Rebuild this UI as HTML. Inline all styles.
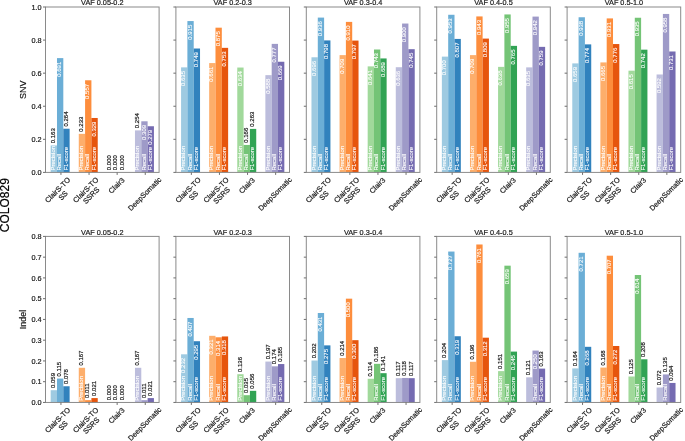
<!DOCTYPE html>
<html><head><meta charset="utf-8"><style>
html,body{margin:0;padding:0;background:#fff;}
body{width:685px;height:441px;overflow:hidden;}
svg{display:block;will-change:transform;}
text{font-family:"Liberation Sans",sans-serif;}
.t{font-size:7.3px;fill:#1a1a1a;stroke:#1a1a1a;stroke-width:0.2px;}
.v{font-size:6px;}
.yl{font-size:9px;fill:#1a1a1a;stroke:#1a1a1a;stroke-width:0.2px;}
.big{font-size:12px;fill:#000;stroke:#000;stroke-width:0.2px;}
</style></head><body>
<svg width="685" height="441" viewBox="0 0 685 441">
<rect width="685" height="441" fill="#fff"/>
<rect x="50.67" y="145.44" width="6.32" height="26.96" fill="#9ecae1"/>
<rect x="56.99" y="58.11" width="6.32" height="114.29" fill="#6baed6"/>
<rect x="63.31" y="128.73" width="6.32" height="43.67" fill="#3182bd"/>
<rect x="78.77" y="133.86" width="6.32" height="38.54" fill="#fdae6b"/>
<rect x="85.09" y="80.27" width="6.32" height="92.13" fill="#fd8d3c"/>
<rect x="91.41" y="117.98" width="6.32" height="54.42" fill="#e6550d"/>
<rect x="134.97" y="130.39" width="6.32" height="42.01" fill="#bcbddc"/>
<rect x="141.29" y="121.29" width="6.32" height="51.11" fill="#9e9ac8"/>
<rect x="147.61" y="126.25" width="6.32" height="46.15" fill="#756bb1"/>
<text transform="translate(54.93,143.24) rotate(-90)" text-anchor="start" class="v" fill="#1a1a1a" stroke="#1a1a1a" stroke-width="0.2">0.163</text>
<text transform="translate(54.93,170.6) rotate(-90)" text-anchor="start" class="v" fill="#fff" stroke="#fff" stroke-width="0.1">Precision</text>
<text transform="translate(61.25,61.71) rotate(-90)" text-anchor="end" class="v" fill="#fff" stroke="#fff" stroke-width="0.1">0.691</text>
<text transform="translate(61.25,170.6) rotate(-90)" text-anchor="start" class="v" fill="#fff" stroke="#fff" stroke-width="0.1">Recall</text>
<text transform="translate(67.57,126.53) rotate(-90)" text-anchor="start" class="v" fill="#1a1a1a" stroke="#1a1a1a" stroke-width="0.2">0.264</text>
<text transform="translate(67.57,170.6) rotate(-90)" text-anchor="start" class="v" fill="#fff" stroke="#fff" stroke-width="0.1">F1-score</text>
<text transform="translate(83.03,131.66) rotate(-90)" text-anchor="start" class="v" fill="#1a1a1a" stroke="#1a1a1a" stroke-width="0.2">0.233</text>
<text transform="translate(83.03,170.6) rotate(-90)" text-anchor="start" class="v" fill="#fff" stroke="#fff" stroke-width="0.1">Precision</text>
<text transform="translate(89.35,83.87) rotate(-90)" text-anchor="end" class="v" fill="#fff" stroke="#fff" stroke-width="0.1">0.557</text>
<text transform="translate(89.35,170.6) rotate(-90)" text-anchor="start" class="v" fill="#fff" stroke="#fff" stroke-width="0.1">Recall</text>
<text transform="translate(95.67,121.58) rotate(-90)" text-anchor="end" class="v" fill="#fff" stroke="#fff" stroke-width="0.1">0.329</text>
<text transform="translate(95.67,170.6) rotate(-90)" text-anchor="start" class="v" fill="#fff" stroke="#fff" stroke-width="0.1">F1-score</text>
<text transform="translate(111.13,170.2) rotate(-90)" text-anchor="start" class="v" fill="#1a1a1a" stroke="#1a1a1a" stroke-width="0.2">0.000</text>
<text transform="translate(117.45,170.2) rotate(-90)" text-anchor="start" class="v" fill="#1a1a1a" stroke="#1a1a1a" stroke-width="0.2">0.000</text>
<text transform="translate(123.77,170.2) rotate(-90)" text-anchor="start" class="v" fill="#1a1a1a" stroke="#1a1a1a" stroke-width="0.2">0.000</text>
<text transform="translate(139.23,128.19) rotate(-90)" text-anchor="start" class="v" fill="#1a1a1a" stroke="#1a1a1a" stroke-width="0.2">0.254</text>
<text transform="translate(139.23,170.6) rotate(-90)" text-anchor="start" class="v" fill="#fff" stroke="#fff" stroke-width="0.1">Precision</text>
<text transform="translate(145.55,124.89) rotate(-90)" text-anchor="end" class="v" fill="#fff" stroke="#fff" stroke-width="0.1">0.309</text>
<text transform="translate(145.55,170.6) rotate(-90)" text-anchor="start" class="v" fill="#fff" stroke="#fff" stroke-width="0.1">Recall</text>
<text transform="translate(151.87,129.85) rotate(-90)" text-anchor="end" class="v" fill="#fff" stroke="#fff" stroke-width="0.1">0.279</text>
<text transform="translate(151.87,170.6) rotate(-90)" text-anchor="start" class="v" fill="#fff" stroke="#fff" stroke-width="0.1">F1-score</text>
<rect x="45.5" y="7" width="113.6" height="165.4" fill="none" stroke="#8a8a8a" stroke-width="1"/>
<line x1="43" y1="172.4" x2="45.5" y2="172.4" stroke="#6e6e6e" stroke-width="1"/>
<text x="41.6" y="175" text-anchor="end" class="t">0.0</text>
<line x1="43" y1="139.32" x2="45.5" y2="139.32" stroke="#6e6e6e" stroke-width="1"/>
<text x="41.6" y="141.92" text-anchor="end" class="t">0.2</text>
<line x1="43" y1="106.24" x2="45.5" y2="106.24" stroke="#6e6e6e" stroke-width="1"/>
<text x="41.6" y="108.84" text-anchor="end" class="t">0.4</text>
<line x1="43" y1="73.16" x2="45.5" y2="73.16" stroke="#6e6e6e" stroke-width="1"/>
<text x="41.6" y="75.76" text-anchor="end" class="t">0.6</text>
<line x1="43" y1="40.08" x2="45.5" y2="40.08" stroke="#6e6e6e" stroke-width="1"/>
<text x="41.6" y="42.68" text-anchor="end" class="t">0.8</text>
<line x1="43" y1="7" x2="45.5" y2="7" stroke="#6e6e6e" stroke-width="1"/>
<text x="41.6" y="9.6" text-anchor="end" class="t">1.0</text>
<line x1="60.95" y1="172.4" x2="60.95" y2="174.9" stroke="#6e6e6e" stroke-width="1"/>
<g transform="translate(60.35,192.7) rotate(-45)">
<text x="0" y="-1.35" text-anchor="middle" class="t">ClairS-TO</text>
<text x="0" y="6.35" text-anchor="middle" class="t">SS</text>
</g>
<line x1="89.05" y1="172.4" x2="89.05" y2="174.9" stroke="#6e6e6e" stroke-width="1"/>
<g transform="translate(88.45,192.7) rotate(-45)">
<text x="0" y="-1.35" text-anchor="middle" class="t">ClairS-TO</text>
<text x="0" y="6.35" text-anchor="middle" class="t">SSRS</text>
</g>
<line x1="117.15" y1="172.4" x2="117.15" y2="174.9" stroke="#6e6e6e" stroke-width="1"/>
<g transform="translate(116.55,185.49) rotate(-45)">
<text x="0" y="2.5" text-anchor="middle" class="t">Clair3</text>
</g>
<line x1="145.25" y1="172.4" x2="145.25" y2="174.9" stroke="#6e6e6e" stroke-width="1"/>
<g transform="translate(144.65,193.88) rotate(-45)">
<text x="0" y="2.5" text-anchor="middle" class="t">DeepSomatic</text>
</g>
<text x="102.3" y="5.4" text-anchor="middle" class="t">VAF 0.05-0.2</text>
<rect x="181.07" y="67.37" width="6.32" height="105.03" fill="#9ecae1"/>
<rect x="187.39" y="21.06" width="6.32" height="151.34" fill="#6baed6"/>
<rect x="193.71" y="48.52" width="6.32" height="123.88" fill="#3182bd"/>
<rect x="209.17" y="63.07" width="6.32" height="109.33" fill="#fdae6b"/>
<rect x="215.49" y="27.68" width="6.32" height="144.72" fill="#fd8d3c"/>
<rect x="221.81" y="47.85" width="6.32" height="124.55" fill="#e6550d"/>
<rect x="237.27" y="67.54" width="6.32" height="104.86" fill="#a1d99b"/>
<rect x="243.59" y="144.94" width="6.32" height="27.46" fill="#74c476"/>
<rect x="249.91" y="128.9" width="6.32" height="43.5" fill="#31a354"/>
<rect x="265.37" y="75.14" width="6.32" height="97.26" fill="#bcbddc"/>
<rect x="271.69" y="43.88" width="6.32" height="128.52" fill="#9e9ac8"/>
<rect x="278.01" y="61.75" width="6.32" height="110.65" fill="#756bb1"/>
<text transform="translate(185.33,70.97) rotate(-90)" text-anchor="end" class="v" fill="#fff" stroke="#fff" stroke-width="0.1">0.635</text>
<text transform="translate(185.33,170.6) rotate(-90)" text-anchor="start" class="v" fill="#fff" stroke="#fff" stroke-width="0.1">Precision</text>
<text transform="translate(191.65,24.66) rotate(-90)" text-anchor="end" class="v" fill="#fff" stroke="#fff" stroke-width="0.1">0.915</text>
<text transform="translate(191.65,170.6) rotate(-90)" text-anchor="start" class="v" fill="#fff" stroke="#fff" stroke-width="0.1">Recall</text>
<text transform="translate(197.97,52.12) rotate(-90)" text-anchor="end" class="v" fill="#fff" stroke="#fff" stroke-width="0.1">0.749</text>
<text transform="translate(197.97,170.6) rotate(-90)" text-anchor="start" class="v" fill="#fff" stroke="#fff" stroke-width="0.1">F1-score</text>
<text transform="translate(213.43,66.67) rotate(-90)" text-anchor="end" class="v" fill="#fff" stroke="#fff" stroke-width="0.1">0.661</text>
<text transform="translate(213.43,170.6) rotate(-90)" text-anchor="start" class="v" fill="#fff" stroke="#fff" stroke-width="0.1">Precision</text>
<text transform="translate(219.75,31.28) rotate(-90)" text-anchor="end" class="v" fill="#fff" stroke="#fff" stroke-width="0.1">0.875</text>
<text transform="translate(219.75,170.6) rotate(-90)" text-anchor="start" class="v" fill="#fff" stroke="#fff" stroke-width="0.1">Recall</text>
<text transform="translate(226.07,51.45) rotate(-90)" text-anchor="end" class="v" fill="#fff" stroke="#fff" stroke-width="0.1">0.753</text>
<text transform="translate(226.07,170.6) rotate(-90)" text-anchor="start" class="v" fill="#fff" stroke="#fff" stroke-width="0.1">F1-score</text>
<text transform="translate(241.53,71.14) rotate(-90)" text-anchor="end" class="v" fill="#fff" stroke="#fff" stroke-width="0.1">0.634</text>
<text transform="translate(241.53,170.6) rotate(-90)" text-anchor="start" class="v" fill="#fff" stroke="#fff" stroke-width="0.1">Precision</text>
<text transform="translate(247.85,142.74) rotate(-90)" text-anchor="start" class="v" fill="#1a1a1a" stroke="#1a1a1a" stroke-width="0.2">0.166</text>
<text transform="translate(247.85,170.6) rotate(-90)" text-anchor="start" class="v" fill="#fff" stroke="#fff" stroke-width="0.1">Recall</text>
<text transform="translate(254.17,126.7) rotate(-90)" text-anchor="start" class="v" fill="#1a1a1a" stroke="#1a1a1a" stroke-width="0.2">0.263</text>
<text transform="translate(254.17,170.6) rotate(-90)" text-anchor="start" class="v" fill="#fff" stroke="#fff" stroke-width="0.1">F1-score</text>
<text transform="translate(269.63,78.74) rotate(-90)" text-anchor="end" class="v" fill="#fff" stroke="#fff" stroke-width="0.1">0.588</text>
<text transform="translate(269.63,170.6) rotate(-90)" text-anchor="start" class="v" fill="#fff" stroke="#fff" stroke-width="0.1">Precision</text>
<text transform="translate(275.95,47.48) rotate(-90)" text-anchor="end" class="v" fill="#fff" stroke="#fff" stroke-width="0.1">0.777</text>
<text transform="translate(275.95,170.6) rotate(-90)" text-anchor="start" class="v" fill="#fff" stroke="#fff" stroke-width="0.1">Recall</text>
<text transform="translate(282.27,65.35) rotate(-90)" text-anchor="end" class="v" fill="#fff" stroke="#fff" stroke-width="0.1">0.669</text>
<text transform="translate(282.27,170.6) rotate(-90)" text-anchor="start" class="v" fill="#fff" stroke="#fff" stroke-width="0.1">F1-score</text>
<rect x="175.9" y="7" width="113.6" height="165.4" fill="none" stroke="#8a8a8a" stroke-width="1"/>
<line x1="173.4" y1="172.4" x2="175.9" y2="172.4" stroke="#6e6e6e" stroke-width="1"/>
<line x1="173.4" y1="139.32" x2="175.9" y2="139.32" stroke="#6e6e6e" stroke-width="1"/>
<line x1="173.4" y1="106.24" x2="175.9" y2="106.24" stroke="#6e6e6e" stroke-width="1"/>
<line x1="173.4" y1="73.16" x2="175.9" y2="73.16" stroke="#6e6e6e" stroke-width="1"/>
<line x1="173.4" y1="40.08" x2="175.9" y2="40.08" stroke="#6e6e6e" stroke-width="1"/>
<line x1="173.4" y1="7" x2="175.9" y2="7" stroke="#6e6e6e" stroke-width="1"/>
<line x1="191.35" y1="172.4" x2="191.35" y2="174.9" stroke="#6e6e6e" stroke-width="1"/>
<g transform="translate(190.75,192.7) rotate(-45)">
<text x="0" y="-1.35" text-anchor="middle" class="t">ClairS-TO</text>
<text x="0" y="6.35" text-anchor="middle" class="t">SS</text>
</g>
<line x1="219.45" y1="172.4" x2="219.45" y2="174.9" stroke="#6e6e6e" stroke-width="1"/>
<g transform="translate(218.85,192.7) rotate(-45)">
<text x="0" y="-1.35" text-anchor="middle" class="t">ClairS-TO</text>
<text x="0" y="6.35" text-anchor="middle" class="t">SSRS</text>
</g>
<line x1="247.55" y1="172.4" x2="247.55" y2="174.9" stroke="#6e6e6e" stroke-width="1"/>
<g transform="translate(246.95,185.49) rotate(-45)">
<text x="0" y="2.5" text-anchor="middle" class="t">Clair3</text>
</g>
<line x1="275.65" y1="172.4" x2="275.65" y2="174.9" stroke="#6e6e6e" stroke-width="1"/>
<g transform="translate(275.05,193.88) rotate(-45)">
<text x="0" y="2.5" text-anchor="middle" class="t">DeepSomatic</text>
</g>
<text x="232.7" y="5.4" text-anchor="middle" class="t">VAF 0.2-0.3</text>
<rect x="311.47" y="57.28" width="6.32" height="115.12" fill="#9ecae1"/>
<rect x="317.79" y="17.59" width="6.32" height="154.81" fill="#6baed6"/>
<rect x="324.11" y="40.41" width="6.32" height="131.99" fill="#3182bd"/>
<rect x="339.57" y="55.13" width="6.32" height="117.27" fill="#fdae6b"/>
<rect x="345.89" y="21.89" width="6.32" height="150.51" fill="#fd8d3c"/>
<rect x="352.21" y="40.58" width="6.32" height="131.82" fill="#e6550d"/>
<rect x="367.67" y="66.38" width="6.32" height="106.02" fill="#a1d99b"/>
<rect x="373.99" y="49.51" width="6.32" height="122.89" fill="#74c476"/>
<rect x="380.31" y="58.44" width="6.32" height="113.96" fill="#31a354"/>
<rect x="395.77" y="67.21" width="6.32" height="105.19" fill="#bcbddc"/>
<rect x="402.09" y="23.54" width="6.32" height="148.86" fill="#9e9ac8"/>
<rect x="408.41" y="49.18" width="6.32" height="123.22" fill="#756bb1"/>
<text transform="translate(315.73,60.88) rotate(-90)" text-anchor="end" class="v" fill="#fff" stroke="#fff" stroke-width="0.1">0.696</text>
<text transform="translate(315.73,170.6) rotate(-90)" text-anchor="start" class="v" fill="#fff" stroke="#fff" stroke-width="0.1">Precision</text>
<text transform="translate(322.05,21.19) rotate(-90)" text-anchor="end" class="v" fill="#fff" stroke="#fff" stroke-width="0.1">0.936</text>
<text transform="translate(322.05,170.6) rotate(-90)" text-anchor="start" class="v" fill="#fff" stroke="#fff" stroke-width="0.1">Recall</text>
<text transform="translate(328.37,44.01) rotate(-90)" text-anchor="end" class="v" fill="#fff" stroke="#fff" stroke-width="0.1">0.798</text>
<text transform="translate(328.37,170.6) rotate(-90)" text-anchor="start" class="v" fill="#fff" stroke="#fff" stroke-width="0.1">F1-score</text>
<text transform="translate(343.83,58.73) rotate(-90)" text-anchor="end" class="v" fill="#fff" stroke="#fff" stroke-width="0.1">0.709</text>
<text transform="translate(343.83,170.6) rotate(-90)" text-anchor="start" class="v" fill="#fff" stroke="#fff" stroke-width="0.1">Precision</text>
<text transform="translate(350.15,25.49) rotate(-90)" text-anchor="end" class="v" fill="#fff" stroke="#fff" stroke-width="0.1">0.910</text>
<text transform="translate(350.15,170.6) rotate(-90)" text-anchor="start" class="v" fill="#fff" stroke="#fff" stroke-width="0.1">Recall</text>
<text transform="translate(356.47,44.18) rotate(-90)" text-anchor="end" class="v" fill="#fff" stroke="#fff" stroke-width="0.1">0.797</text>
<text transform="translate(356.47,170.6) rotate(-90)" text-anchor="start" class="v" fill="#fff" stroke="#fff" stroke-width="0.1">F1-score</text>
<text transform="translate(371.93,69.98) rotate(-90)" text-anchor="end" class="v" fill="#fff" stroke="#fff" stroke-width="0.1">0.641</text>
<text transform="translate(371.93,170.6) rotate(-90)" text-anchor="start" class="v" fill="#fff" stroke="#fff" stroke-width="0.1">Precision</text>
<text transform="translate(378.25,53.11) rotate(-90)" text-anchor="end" class="v" fill="#fff" stroke="#fff" stroke-width="0.1">0.743</text>
<text transform="translate(378.25,170.6) rotate(-90)" text-anchor="start" class="v" fill="#fff" stroke="#fff" stroke-width="0.1">Recall</text>
<text transform="translate(384.57,62.04) rotate(-90)" text-anchor="end" class="v" fill="#fff" stroke="#fff" stroke-width="0.1">0.689</text>
<text transform="translate(384.57,170.6) rotate(-90)" text-anchor="start" class="v" fill="#fff" stroke="#fff" stroke-width="0.1">F1-score</text>
<text transform="translate(400.03,70.81) rotate(-90)" text-anchor="end" class="v" fill="#fff" stroke="#fff" stroke-width="0.1">0.636</text>
<text transform="translate(400.03,170.6) rotate(-90)" text-anchor="start" class="v" fill="#fff" stroke="#fff" stroke-width="0.1">Precision</text>
<text transform="translate(406.35,27.14) rotate(-90)" text-anchor="end" class="v" fill="#fff" stroke="#fff" stroke-width="0.1">0.900</text>
<text transform="translate(406.35,170.6) rotate(-90)" text-anchor="start" class="v" fill="#fff" stroke="#fff" stroke-width="0.1">Recall</text>
<text transform="translate(412.67,52.78) rotate(-90)" text-anchor="end" class="v" fill="#fff" stroke="#fff" stroke-width="0.1">0.745</text>
<text transform="translate(412.67,170.6) rotate(-90)" text-anchor="start" class="v" fill="#fff" stroke="#fff" stroke-width="0.1">F1-score</text>
<rect x="306.3" y="7" width="113.6" height="165.4" fill="none" stroke="#8a8a8a" stroke-width="1"/>
<line x1="303.8" y1="172.4" x2="306.3" y2="172.4" stroke="#6e6e6e" stroke-width="1"/>
<line x1="303.8" y1="139.32" x2="306.3" y2="139.32" stroke="#6e6e6e" stroke-width="1"/>
<line x1="303.8" y1="106.24" x2="306.3" y2="106.24" stroke="#6e6e6e" stroke-width="1"/>
<line x1="303.8" y1="73.16" x2="306.3" y2="73.16" stroke="#6e6e6e" stroke-width="1"/>
<line x1="303.8" y1="40.08" x2="306.3" y2="40.08" stroke="#6e6e6e" stroke-width="1"/>
<line x1="303.8" y1="7" x2="306.3" y2="7" stroke="#6e6e6e" stroke-width="1"/>
<line x1="321.75" y1="172.4" x2="321.75" y2="174.9" stroke="#6e6e6e" stroke-width="1"/>
<g transform="translate(321.15,192.7) rotate(-45)">
<text x="0" y="-1.35" text-anchor="middle" class="t">ClairS-TO</text>
<text x="0" y="6.35" text-anchor="middle" class="t">SS</text>
</g>
<line x1="349.85" y1="172.4" x2="349.85" y2="174.9" stroke="#6e6e6e" stroke-width="1"/>
<g transform="translate(349.25,192.7) rotate(-45)">
<text x="0" y="-1.35" text-anchor="middle" class="t">ClairS-TO</text>
<text x="0" y="6.35" text-anchor="middle" class="t">SSRS</text>
</g>
<line x1="377.95" y1="172.4" x2="377.95" y2="174.9" stroke="#6e6e6e" stroke-width="1"/>
<g transform="translate(377.35,185.49) rotate(-45)">
<text x="0" y="2.5" text-anchor="middle" class="t">Clair3</text>
</g>
<line x1="406.05" y1="172.4" x2="406.05" y2="174.9" stroke="#6e6e6e" stroke-width="1"/>
<g transform="translate(405.45,193.88) rotate(-45)">
<text x="0" y="2.5" text-anchor="middle" class="t">DeepSomatic</text>
</g>
<text x="363.1" y="5.4" text-anchor="middle" class="t">VAF 0.3-0.4</text>
<rect x="441.87" y="56.62" width="6.32" height="115.78" fill="#9ecae1"/>
<rect x="448.19" y="14.77" width="6.32" height="157.63" fill="#6baed6"/>
<rect x="454.51" y="38.92" width="6.32" height="133.48" fill="#3182bd"/>
<rect x="469.97" y="55.13" width="6.32" height="117.27" fill="#fdae6b"/>
<rect x="476.29" y="16.43" width="6.32" height="155.97" fill="#fd8d3c"/>
<rect x="482.61" y="38.59" width="6.32" height="133.81" fill="#e6550d"/>
<rect x="498.07" y="66.87" width="6.32" height="105.53" fill="#a1d99b"/>
<rect x="504.39" y="14.44" width="6.32" height="157.96" fill="#74c476"/>
<rect x="510.71" y="45.87" width="6.32" height="126.53" fill="#31a354"/>
<rect x="526.17" y="67.37" width="6.32" height="105.03" fill="#bcbddc"/>
<rect x="532.49" y="16.59" width="6.32" height="155.81" fill="#9e9ac8"/>
<rect x="538.81" y="46.86" width="6.32" height="125.54" fill="#756bb1"/>
<text transform="translate(446.13,60.22) rotate(-90)" text-anchor="end" class="v" fill="#fff" stroke="#fff" stroke-width="0.1">0.700</text>
<text transform="translate(446.13,170.6) rotate(-90)" text-anchor="start" class="v" fill="#fff" stroke="#fff" stroke-width="0.1">Precision</text>
<text transform="translate(452.45,18.37) rotate(-90)" text-anchor="end" class="v" fill="#fff" stroke="#fff" stroke-width="0.1">0.953</text>
<text transform="translate(452.45,170.6) rotate(-90)" text-anchor="start" class="v" fill="#fff" stroke="#fff" stroke-width="0.1">Recall</text>
<text transform="translate(458.77,42.52) rotate(-90)" text-anchor="end" class="v" fill="#fff" stroke="#fff" stroke-width="0.1">0.807</text>
<text transform="translate(458.77,170.6) rotate(-90)" text-anchor="start" class="v" fill="#fff" stroke="#fff" stroke-width="0.1">F1-score</text>
<text transform="translate(474.23,58.73) rotate(-90)" text-anchor="end" class="v" fill="#fff" stroke="#fff" stroke-width="0.1">0.709</text>
<text transform="translate(474.23,170.6) rotate(-90)" text-anchor="start" class="v" fill="#fff" stroke="#fff" stroke-width="0.1">Precision</text>
<text transform="translate(480.55,20.03) rotate(-90)" text-anchor="end" class="v" fill="#fff" stroke="#fff" stroke-width="0.1">0.943</text>
<text transform="translate(480.55,170.6) rotate(-90)" text-anchor="start" class="v" fill="#fff" stroke="#fff" stroke-width="0.1">Recall</text>
<text transform="translate(486.87,42.19) rotate(-90)" text-anchor="end" class="v" fill="#fff" stroke="#fff" stroke-width="0.1">0.809</text>
<text transform="translate(486.87,170.6) rotate(-90)" text-anchor="start" class="v" fill="#fff" stroke="#fff" stroke-width="0.1">F1-score</text>
<text transform="translate(502.33,70.47) rotate(-90)" text-anchor="end" class="v" fill="#fff" stroke="#fff" stroke-width="0.1">0.638</text>
<text transform="translate(502.33,170.6) rotate(-90)" text-anchor="start" class="v" fill="#fff" stroke="#fff" stroke-width="0.1">Precision</text>
<text transform="translate(508.65,18.04) rotate(-90)" text-anchor="end" class="v" fill="#fff" stroke="#fff" stroke-width="0.1">0.955</text>
<text transform="translate(508.65,170.6) rotate(-90)" text-anchor="start" class="v" fill="#fff" stroke="#fff" stroke-width="0.1">Recall</text>
<text transform="translate(514.97,49.47) rotate(-90)" text-anchor="end" class="v" fill="#fff" stroke="#fff" stroke-width="0.1">0.765</text>
<text transform="translate(514.97,170.6) rotate(-90)" text-anchor="start" class="v" fill="#fff" stroke="#fff" stroke-width="0.1">F1-score</text>
<text transform="translate(530.43,70.97) rotate(-90)" text-anchor="end" class="v" fill="#fff" stroke="#fff" stroke-width="0.1">0.635</text>
<text transform="translate(530.43,170.6) rotate(-90)" text-anchor="start" class="v" fill="#fff" stroke="#fff" stroke-width="0.1">Precision</text>
<text transform="translate(536.75,20.19) rotate(-90)" text-anchor="end" class="v" fill="#fff" stroke="#fff" stroke-width="0.1">0.942</text>
<text transform="translate(536.75,170.6) rotate(-90)" text-anchor="start" class="v" fill="#fff" stroke="#fff" stroke-width="0.1">Recall</text>
<text transform="translate(543.07,50.46) rotate(-90)" text-anchor="end" class="v" fill="#fff" stroke="#fff" stroke-width="0.1">0.759</text>
<text transform="translate(543.07,170.6) rotate(-90)" text-anchor="start" class="v" fill="#fff" stroke="#fff" stroke-width="0.1">F1-score</text>
<rect x="436.7" y="7" width="113.6" height="165.4" fill="none" stroke="#8a8a8a" stroke-width="1"/>
<line x1="434.2" y1="172.4" x2="436.7" y2="172.4" stroke="#6e6e6e" stroke-width="1"/>
<line x1="434.2" y1="139.32" x2="436.7" y2="139.32" stroke="#6e6e6e" stroke-width="1"/>
<line x1="434.2" y1="106.24" x2="436.7" y2="106.24" stroke="#6e6e6e" stroke-width="1"/>
<line x1="434.2" y1="73.16" x2="436.7" y2="73.16" stroke="#6e6e6e" stroke-width="1"/>
<line x1="434.2" y1="40.08" x2="436.7" y2="40.08" stroke="#6e6e6e" stroke-width="1"/>
<line x1="434.2" y1="7" x2="436.7" y2="7" stroke="#6e6e6e" stroke-width="1"/>
<line x1="452.15" y1="172.4" x2="452.15" y2="174.9" stroke="#6e6e6e" stroke-width="1"/>
<g transform="translate(451.55,192.7) rotate(-45)">
<text x="0" y="-1.35" text-anchor="middle" class="t">ClairS-TO</text>
<text x="0" y="6.35" text-anchor="middle" class="t">SS</text>
</g>
<line x1="480.25" y1="172.4" x2="480.25" y2="174.9" stroke="#6e6e6e" stroke-width="1"/>
<g transform="translate(479.65,192.7) rotate(-45)">
<text x="0" y="-1.35" text-anchor="middle" class="t">ClairS-TO</text>
<text x="0" y="6.35" text-anchor="middle" class="t">SSRS</text>
</g>
<line x1="508.35" y1="172.4" x2="508.35" y2="174.9" stroke="#6e6e6e" stroke-width="1"/>
<g transform="translate(507.75,185.49) rotate(-45)">
<text x="0" y="2.5" text-anchor="middle" class="t">Clair3</text>
</g>
<line x1="536.45" y1="172.4" x2="536.45" y2="174.9" stroke="#6e6e6e" stroke-width="1"/>
<g transform="translate(535.85,193.88) rotate(-45)">
<text x="0" y="2.5" text-anchor="middle" class="t">DeepSomatic</text>
</g>
<text x="493.5" y="5.4" text-anchor="middle" class="t">VAF 0.4-0.5</text>
<rect x="572.27" y="63.4" width="6.32" height="109" fill="#9ecae1"/>
<rect x="578.59" y="17.25" width="6.32" height="155.15" fill="#6baed6"/>
<rect x="584.91" y="44.38" width="6.32" height="128.02" fill="#3182bd"/>
<rect x="600.37" y="62.41" width="6.32" height="109.99" fill="#fdae6b"/>
<rect x="606.69" y="18.41" width="6.32" height="153.99" fill="#fd8d3c"/>
<rect x="613.01" y="44.05" width="6.32" height="128.35" fill="#e6550d"/>
<rect x="628.47" y="70.68" width="6.32" height="101.72" fill="#a1d99b"/>
<rect x="634.79" y="17.75" width="6.32" height="154.65" fill="#74c476"/>
<rect x="641.11" y="49.67" width="6.32" height="122.73" fill="#31a354"/>
<rect x="656.57" y="74.48" width="6.32" height="97.92" fill="#bcbddc"/>
<rect x="662.89" y="13.95" width="6.32" height="158.45" fill="#9e9ac8"/>
<rect x="669.21" y="51.49" width="6.32" height="120.91" fill="#756bb1"/>
<text transform="translate(576.53,67) rotate(-90)" text-anchor="end" class="v" fill="#fff" stroke="#fff" stroke-width="0.1">0.659</text>
<text transform="translate(576.53,170.6) rotate(-90)" text-anchor="start" class="v" fill="#fff" stroke="#fff" stroke-width="0.1">Precision</text>
<text transform="translate(582.85,20.85) rotate(-90)" text-anchor="end" class="v" fill="#fff" stroke="#fff" stroke-width="0.1">0.938</text>
<text transform="translate(582.85,170.6) rotate(-90)" text-anchor="start" class="v" fill="#fff" stroke="#fff" stroke-width="0.1">Recall</text>
<text transform="translate(589.17,47.98) rotate(-90)" text-anchor="end" class="v" fill="#fff" stroke="#fff" stroke-width="0.1">0.774</text>
<text transform="translate(589.17,170.6) rotate(-90)" text-anchor="start" class="v" fill="#fff" stroke="#fff" stroke-width="0.1">F1-score</text>
<text transform="translate(604.63,66.01) rotate(-90)" text-anchor="end" class="v" fill="#fff" stroke="#fff" stroke-width="0.1">0.665</text>
<text transform="translate(604.63,170.6) rotate(-90)" text-anchor="start" class="v" fill="#fff" stroke="#fff" stroke-width="0.1">Precision</text>
<text transform="translate(610.95,22.01) rotate(-90)" text-anchor="end" class="v" fill="#fff" stroke="#fff" stroke-width="0.1">0.931</text>
<text transform="translate(610.95,170.6) rotate(-90)" text-anchor="start" class="v" fill="#fff" stroke="#fff" stroke-width="0.1">Recall</text>
<text transform="translate(617.27,47.65) rotate(-90)" text-anchor="end" class="v" fill="#fff" stroke="#fff" stroke-width="0.1">0.776</text>
<text transform="translate(617.27,170.6) rotate(-90)" text-anchor="start" class="v" fill="#fff" stroke="#fff" stroke-width="0.1">F1-score</text>
<text transform="translate(632.73,74.28) rotate(-90)" text-anchor="end" class="v" fill="#fff" stroke="#fff" stroke-width="0.1">0.615</text>
<text transform="translate(632.73,170.6) rotate(-90)" text-anchor="start" class="v" fill="#fff" stroke="#fff" stroke-width="0.1">Precision</text>
<text transform="translate(639.05,21.35) rotate(-90)" text-anchor="end" class="v" fill="#fff" stroke="#fff" stroke-width="0.1">0.935</text>
<text transform="translate(639.05,170.6) rotate(-90)" text-anchor="start" class="v" fill="#fff" stroke="#fff" stroke-width="0.1">Recall</text>
<text transform="translate(645.37,53.27) rotate(-90)" text-anchor="end" class="v" fill="#fff" stroke="#fff" stroke-width="0.1">0.742</text>
<text transform="translate(645.37,170.6) rotate(-90)" text-anchor="start" class="v" fill="#fff" stroke="#fff" stroke-width="0.1">F1-score</text>
<text transform="translate(660.83,78.08) rotate(-90)" text-anchor="end" class="v" fill="#fff" stroke="#fff" stroke-width="0.1">0.592</text>
<text transform="translate(660.83,170.6) rotate(-90)" text-anchor="start" class="v" fill="#fff" stroke="#fff" stroke-width="0.1">Precision</text>
<text transform="translate(667.15,17.55) rotate(-90)" text-anchor="end" class="v" fill="#fff" stroke="#fff" stroke-width="0.1">0.958</text>
<text transform="translate(667.15,170.6) rotate(-90)" text-anchor="start" class="v" fill="#fff" stroke="#fff" stroke-width="0.1">Recall</text>
<text transform="translate(673.47,55.09) rotate(-90)" text-anchor="end" class="v" fill="#fff" stroke="#fff" stroke-width="0.1">0.731</text>
<text transform="translate(673.47,170.6) rotate(-90)" text-anchor="start" class="v" fill="#fff" stroke="#fff" stroke-width="0.1">F1-score</text>
<rect x="567.1" y="7" width="113.6" height="165.4" fill="none" stroke="#8a8a8a" stroke-width="1"/>
<line x1="564.6" y1="172.4" x2="567.1" y2="172.4" stroke="#6e6e6e" stroke-width="1"/>
<line x1="564.6" y1="139.32" x2="567.1" y2="139.32" stroke="#6e6e6e" stroke-width="1"/>
<line x1="564.6" y1="106.24" x2="567.1" y2="106.24" stroke="#6e6e6e" stroke-width="1"/>
<line x1="564.6" y1="73.16" x2="567.1" y2="73.16" stroke="#6e6e6e" stroke-width="1"/>
<line x1="564.6" y1="40.08" x2="567.1" y2="40.08" stroke="#6e6e6e" stroke-width="1"/>
<line x1="564.6" y1="7" x2="567.1" y2="7" stroke="#6e6e6e" stroke-width="1"/>
<line x1="582.55" y1="172.4" x2="582.55" y2="174.9" stroke="#6e6e6e" stroke-width="1"/>
<g transform="translate(581.95,192.7) rotate(-45)">
<text x="0" y="-1.35" text-anchor="middle" class="t">ClairS-TO</text>
<text x="0" y="6.35" text-anchor="middle" class="t">SS</text>
</g>
<line x1="610.65" y1="172.4" x2="610.65" y2="174.9" stroke="#6e6e6e" stroke-width="1"/>
<g transform="translate(610.05,192.7) rotate(-45)">
<text x="0" y="-1.35" text-anchor="middle" class="t">ClairS-TO</text>
<text x="0" y="6.35" text-anchor="middle" class="t">SSRS</text>
</g>
<line x1="638.75" y1="172.4" x2="638.75" y2="174.9" stroke="#6e6e6e" stroke-width="1"/>
<g transform="translate(638.15,185.49) rotate(-45)">
<text x="0" y="2.5" text-anchor="middle" class="t">Clair3</text>
</g>
<line x1="666.85" y1="172.4" x2="666.85" y2="174.9" stroke="#6e6e6e" stroke-width="1"/>
<g transform="translate(666.25,193.88) rotate(-45)">
<text x="0" y="2.5" text-anchor="middle" class="t">DeepSomatic</text>
</g>
<text x="623.9" y="5.4" text-anchor="middle" class="t">VAF 0.5-1.0</text>
<text transform="translate(26.1,89.7) rotate(-90)" text-anchor="middle" class="yl">SNV</text>
<rect x="50.67" y="390.2" width="6.32" height="12.25" fill="#9ecae1"/>
<rect x="56.99" y="378.58" width="6.32" height="23.87" fill="#6baed6"/>
<rect x="63.31" y="386.26" width="6.32" height="16.19" fill="#3182bd"/>
<rect x="78.77" y="367.79" width="6.32" height="34.66" fill="#fdae6b"/>
<rect x="85.09" y="400.17" width="6.32" height="2.28" fill="#fd8d3c"/>
<rect x="91.41" y="398.09" width="6.32" height="4.36" fill="#e6550d"/>
<rect x="134.97" y="367.79" width="6.32" height="34.66" fill="#bcbddc"/>
<rect x="141.29" y="400.17" width="6.32" height="2.28" fill="#9e9ac8"/>
<rect x="147.61" y="398.09" width="6.32" height="4.36" fill="#756bb1"/>
<text transform="translate(54.93,388) rotate(-90)" text-anchor="start" class="v" fill="#1a1a1a" stroke="#1a1a1a" stroke-width="0.2">0.059</text>
<text transform="translate(61.25,376.38) rotate(-90)" text-anchor="start" class="v" fill="#1a1a1a" stroke="#1a1a1a" stroke-width="0.2">0.115</text>
<text transform="translate(67.57,384.06) rotate(-90)" text-anchor="start" class="v" fill="#1a1a1a" stroke="#1a1a1a" stroke-width="0.2">0.078</text>
<text transform="translate(83.03,365.59) rotate(-90)" text-anchor="start" class="v" fill="#1a1a1a" stroke="#1a1a1a" stroke-width="0.2">0.167</text>
<text transform="translate(83.03,400.65) rotate(-90)" text-anchor="start" class="v" fill="#fff" stroke="#fff" stroke-width="0.1">Precision</text>
<text transform="translate(89.35,397.97) rotate(-90)" text-anchor="start" class="v" fill="#1a1a1a" stroke="#1a1a1a" stroke-width="0.2">0.011</text>
<text transform="translate(95.67,395.89) rotate(-90)" text-anchor="start" class="v" fill="#1a1a1a" stroke="#1a1a1a" stroke-width="0.2">0.021</text>
<text transform="translate(111.13,400.25) rotate(-90)" text-anchor="start" class="v" fill="#1a1a1a" stroke="#1a1a1a" stroke-width="0.2">0.000</text>
<text transform="translate(117.45,400.25) rotate(-90)" text-anchor="start" class="v" fill="#1a1a1a" stroke="#1a1a1a" stroke-width="0.2">0.000</text>
<text transform="translate(123.77,400.25) rotate(-90)" text-anchor="start" class="v" fill="#1a1a1a" stroke="#1a1a1a" stroke-width="0.2">0.000</text>
<text transform="translate(139.23,365.59) rotate(-90)" text-anchor="start" class="v" fill="#1a1a1a" stroke="#1a1a1a" stroke-width="0.2">0.167</text>
<text transform="translate(139.23,400.65) rotate(-90)" text-anchor="start" class="v" fill="#fff" stroke="#fff" stroke-width="0.1">Precision</text>
<text transform="translate(145.55,397.97) rotate(-90)" text-anchor="start" class="v" fill="#1a1a1a" stroke="#1a1a1a" stroke-width="0.2">0.011</text>
<text transform="translate(151.87,395.89) rotate(-90)" text-anchor="start" class="v" fill="#1a1a1a" stroke="#1a1a1a" stroke-width="0.2">0.021</text>
<rect x="45.5" y="236.4" width="113.6" height="166.05" fill="none" stroke="#8a8a8a" stroke-width="1"/>
<line x1="43" y1="402.45" x2="45.5" y2="402.45" stroke="#6e6e6e" stroke-width="1"/>
<text x="41.6" y="405.05" text-anchor="end" class="t">0.0</text>
<line x1="43" y1="381.69" x2="45.5" y2="381.69" stroke="#6e6e6e" stroke-width="1"/>
<text x="41.6" y="384.29" text-anchor="end" class="t">0.1</text>
<line x1="43" y1="360.94" x2="45.5" y2="360.94" stroke="#6e6e6e" stroke-width="1"/>
<text x="41.6" y="363.54" text-anchor="end" class="t">0.2</text>
<line x1="43" y1="340.18" x2="45.5" y2="340.18" stroke="#6e6e6e" stroke-width="1"/>
<text x="41.6" y="342.78" text-anchor="end" class="t">0.3</text>
<line x1="43" y1="319.43" x2="45.5" y2="319.43" stroke="#6e6e6e" stroke-width="1"/>
<text x="41.6" y="322.03" text-anchor="end" class="t">0.4</text>
<line x1="43" y1="298.67" x2="45.5" y2="298.67" stroke="#6e6e6e" stroke-width="1"/>
<text x="41.6" y="301.27" text-anchor="end" class="t">0.5</text>
<line x1="43" y1="277.91" x2="45.5" y2="277.91" stroke="#6e6e6e" stroke-width="1"/>
<text x="41.6" y="280.51" text-anchor="end" class="t">0.6</text>
<line x1="43" y1="257.16" x2="45.5" y2="257.16" stroke="#6e6e6e" stroke-width="1"/>
<text x="41.6" y="259.76" text-anchor="end" class="t">0.7</text>
<line x1="43" y1="236.4" x2="45.5" y2="236.4" stroke="#6e6e6e" stroke-width="1"/>
<text x="41.6" y="239" text-anchor="end" class="t">0.8</text>
<line x1="60.95" y1="402.45" x2="60.95" y2="404.95" stroke="#6e6e6e" stroke-width="1"/>
<g transform="translate(60.35,422.75) rotate(-45)">
<text x="0" y="-1.35" text-anchor="middle" class="t">ClairS-TO</text>
<text x="0" y="6.35" text-anchor="middle" class="t">SS</text>
</g>
<line x1="89.05" y1="402.45" x2="89.05" y2="404.95" stroke="#6e6e6e" stroke-width="1"/>
<g transform="translate(88.45,422.75) rotate(-45)">
<text x="0" y="-1.35" text-anchor="middle" class="t">ClairS-TO</text>
<text x="0" y="6.35" text-anchor="middle" class="t">SSRS</text>
</g>
<line x1="117.15" y1="402.45" x2="117.15" y2="404.95" stroke="#6e6e6e" stroke-width="1"/>
<g transform="translate(116.55,415.54) rotate(-45)">
<text x="0" y="2.5" text-anchor="middle" class="t">Clair3</text>
</g>
<line x1="145.25" y1="402.45" x2="145.25" y2="404.95" stroke="#6e6e6e" stroke-width="1"/>
<g transform="translate(144.65,423.93) rotate(-45)">
<text x="0" y="2.5" text-anchor="middle" class="t">DeepSomatic</text>
</g>
<text x="102.3" y="234.8" text-anchor="middle" class="t">VAF 0.05-0.2</text>
<rect x="181.07" y="354.3" width="6.32" height="48.15" fill="#9ecae1"/>
<rect x="187.39" y="317.97" width="6.32" height="84.48" fill="#6baed6"/>
<rect x="193.71" y="341.22" width="6.32" height="61.23" fill="#3182bd"/>
<rect x="209.17" y="335.82" width="6.32" height="66.63" fill="#fdae6b"/>
<rect x="215.49" y="337.28" width="6.32" height="65.17" fill="#fd8d3c"/>
<rect x="221.81" y="336.45" width="6.32" height="66" fill="#e6550d"/>
<rect x="237.27" y="374.22" width="6.32" height="28.23" fill="#a1d99b"/>
<rect x="243.59" y="395.19" width="6.32" height="7.26" fill="#74c476"/>
<rect x="249.91" y="390.83" width="6.32" height="11.62" fill="#31a354"/>
<rect x="265.37" y="361.56" width="6.32" height="40.89" fill="#bcbddc"/>
<rect x="271.69" y="366.33" width="6.32" height="36.12" fill="#9e9ac8"/>
<rect x="278.01" y="364.05" width="6.32" height="38.4" fill="#756bb1"/>
<text transform="translate(185.33,357.9) rotate(-90)" text-anchor="end" class="v" fill="#fff" stroke="#fff" stroke-width="0.1">0.232</text>
<text transform="translate(185.33,400.65) rotate(-90)" text-anchor="start" class="v" fill="#fff" stroke="#fff" stroke-width="0.1">Precision</text>
<text transform="translate(191.65,321.57) rotate(-90)" text-anchor="end" class="v" fill="#fff" stroke="#fff" stroke-width="0.1">0.407</text>
<text transform="translate(191.65,400.65) rotate(-90)" text-anchor="start" class="v" fill="#fff" stroke="#fff" stroke-width="0.1">Recall</text>
<text transform="translate(197.97,344.82) rotate(-90)" text-anchor="end" class="v" fill="#fff" stroke="#fff" stroke-width="0.1">0.295</text>
<text transform="translate(197.97,400.65) rotate(-90)" text-anchor="start" class="v" fill="#fff" stroke="#fff" stroke-width="0.1">F1-score</text>
<text transform="translate(213.43,339.42) rotate(-90)" text-anchor="end" class="v" fill="#fff" stroke="#fff" stroke-width="0.1">0.321</text>
<text transform="translate(213.43,400.65) rotate(-90)" text-anchor="start" class="v" fill="#fff" stroke="#fff" stroke-width="0.1">Precision</text>
<text transform="translate(219.75,340.88) rotate(-90)" text-anchor="end" class="v" fill="#fff" stroke="#fff" stroke-width="0.1">0.314</text>
<text transform="translate(219.75,400.65) rotate(-90)" text-anchor="start" class="v" fill="#fff" stroke="#fff" stroke-width="0.1">Recall</text>
<text transform="translate(226.07,340.05) rotate(-90)" text-anchor="end" class="v" fill="#fff" stroke="#fff" stroke-width="0.1">0.318</text>
<text transform="translate(226.07,400.65) rotate(-90)" text-anchor="start" class="v" fill="#fff" stroke="#fff" stroke-width="0.1">F1-score</text>
<text transform="translate(241.53,372.02) rotate(-90)" text-anchor="start" class="v" fill="#1a1a1a" stroke="#1a1a1a" stroke-width="0.2">0.136</text>
<text transform="translate(241.53,400.65) rotate(-90)" text-anchor="start" class="v" fill="#fff" stroke="#fff" stroke-width="0.1">Precision</text>
<text transform="translate(247.85,392.99) rotate(-90)" text-anchor="start" class="v" fill="#1a1a1a" stroke="#1a1a1a" stroke-width="0.2">0.035</text>
<text transform="translate(254.17,388.63) rotate(-90)" text-anchor="start" class="v" fill="#1a1a1a" stroke="#1a1a1a" stroke-width="0.2">0.056</text>
<text transform="translate(269.63,359.36) rotate(-90)" text-anchor="start" class="v" fill="#1a1a1a" stroke="#1a1a1a" stroke-width="0.2">0.197</text>
<text transform="translate(269.63,400.65) rotate(-90)" text-anchor="start" class="v" fill="#fff" stroke="#fff" stroke-width="0.1">Precision</text>
<text transform="translate(275.95,364.13) rotate(-90)" text-anchor="start" class="v" fill="#1a1a1a" stroke="#1a1a1a" stroke-width="0.2">0.174</text>
<text transform="translate(275.95,400.65) rotate(-90)" text-anchor="start" class="v" fill="#fff" stroke="#fff" stroke-width="0.1">Recall</text>
<text transform="translate(282.27,361.85) rotate(-90)" text-anchor="start" class="v" fill="#1a1a1a" stroke="#1a1a1a" stroke-width="0.2">0.185</text>
<text transform="translate(282.27,400.65) rotate(-90)" text-anchor="start" class="v" fill="#fff" stroke="#fff" stroke-width="0.1">F1-score</text>
<rect x="175.9" y="236.4" width="113.6" height="166.05" fill="none" stroke="#8a8a8a" stroke-width="1"/>
<line x1="173.4" y1="402.45" x2="175.9" y2="402.45" stroke="#6e6e6e" stroke-width="1"/>
<line x1="173.4" y1="381.69" x2="175.9" y2="381.69" stroke="#6e6e6e" stroke-width="1"/>
<line x1="173.4" y1="360.94" x2="175.9" y2="360.94" stroke="#6e6e6e" stroke-width="1"/>
<line x1="173.4" y1="340.18" x2="175.9" y2="340.18" stroke="#6e6e6e" stroke-width="1"/>
<line x1="173.4" y1="319.43" x2="175.9" y2="319.43" stroke="#6e6e6e" stroke-width="1"/>
<line x1="173.4" y1="298.67" x2="175.9" y2="298.67" stroke="#6e6e6e" stroke-width="1"/>
<line x1="173.4" y1="277.91" x2="175.9" y2="277.91" stroke="#6e6e6e" stroke-width="1"/>
<line x1="173.4" y1="257.16" x2="175.9" y2="257.16" stroke="#6e6e6e" stroke-width="1"/>
<line x1="173.4" y1="236.4" x2="175.9" y2="236.4" stroke="#6e6e6e" stroke-width="1"/>
<line x1="191.35" y1="402.45" x2="191.35" y2="404.95" stroke="#6e6e6e" stroke-width="1"/>
<g transform="translate(190.75,422.75) rotate(-45)">
<text x="0" y="-1.35" text-anchor="middle" class="t">ClairS-TO</text>
<text x="0" y="6.35" text-anchor="middle" class="t">SS</text>
</g>
<line x1="219.45" y1="402.45" x2="219.45" y2="404.95" stroke="#6e6e6e" stroke-width="1"/>
<g transform="translate(218.85,422.75) rotate(-45)">
<text x="0" y="-1.35" text-anchor="middle" class="t">ClairS-TO</text>
<text x="0" y="6.35" text-anchor="middle" class="t">SSRS</text>
</g>
<line x1="247.55" y1="402.45" x2="247.55" y2="404.95" stroke="#6e6e6e" stroke-width="1"/>
<g transform="translate(246.95,415.54) rotate(-45)">
<text x="0" y="2.5" text-anchor="middle" class="t">Clair3</text>
</g>
<line x1="275.65" y1="402.45" x2="275.65" y2="404.95" stroke="#6e6e6e" stroke-width="1"/>
<g transform="translate(275.05,423.93) rotate(-45)">
<text x="0" y="2.5" text-anchor="middle" class="t">DeepSomatic</text>
</g>
<text x="232.7" y="234.8" text-anchor="middle" class="t">VAF 0.2-0.3</text>
<rect x="311.47" y="360.52" width="6.32" height="41.93" fill="#9ecae1"/>
<rect x="317.79" y="312.99" width="6.32" height="89.46" fill="#6baed6"/>
<rect x="324.11" y="345.37" width="6.32" height="57.08" fill="#3182bd"/>
<rect x="339.57" y="358.03" width="6.32" height="44.42" fill="#fdae6b"/>
<rect x="345.89" y="298.67" width="6.32" height="103.78" fill="#fd8d3c"/>
<rect x="352.21" y="340.18" width="6.32" height="62.27" fill="#e6550d"/>
<rect x="367.67" y="378.79" width="6.32" height="23.66" fill="#a1d99b"/>
<rect x="373.99" y="363.84" width="6.32" height="38.61" fill="#74c476"/>
<rect x="380.31" y="373.18" width="6.32" height="29.27" fill="#31a354"/>
<rect x="395.77" y="378.17" width="6.32" height="24.28" fill="#bcbddc"/>
<rect x="402.09" y="377.96" width="6.32" height="24.49" fill="#9e9ac8"/>
<rect x="408.41" y="378.17" width="6.32" height="24.28" fill="#756bb1"/>
<text transform="translate(315.73,358.32) rotate(-90)" text-anchor="start" class="v" fill="#1a1a1a" stroke="#1a1a1a" stroke-width="0.2">0.202</text>
<text transform="translate(315.73,400.65) rotate(-90)" text-anchor="start" class="v" fill="#fff" stroke="#fff" stroke-width="0.1">Precision</text>
<text transform="translate(322.05,316.59) rotate(-90)" text-anchor="end" class="v" fill="#fff" stroke="#fff" stroke-width="0.1">0.431</text>
<text transform="translate(322.05,400.65) rotate(-90)" text-anchor="start" class="v" fill="#fff" stroke="#fff" stroke-width="0.1">Recall</text>
<text transform="translate(328.37,348.97) rotate(-90)" text-anchor="end" class="v" fill="#fff" stroke="#fff" stroke-width="0.1">0.275</text>
<text transform="translate(328.37,400.65) rotate(-90)" text-anchor="start" class="v" fill="#fff" stroke="#fff" stroke-width="0.1">F1-score</text>
<text transform="translate(343.83,355.83) rotate(-90)" text-anchor="start" class="v" fill="#1a1a1a" stroke="#1a1a1a" stroke-width="0.2">0.214</text>
<text transform="translate(343.83,400.65) rotate(-90)" text-anchor="start" class="v" fill="#fff" stroke="#fff" stroke-width="0.1">Precision</text>
<text transform="translate(350.15,302.27) rotate(-90)" text-anchor="end" class="v" fill="#fff" stroke="#fff" stroke-width="0.1">0.500</text>
<text transform="translate(350.15,400.65) rotate(-90)" text-anchor="start" class="v" fill="#fff" stroke="#fff" stroke-width="0.1">Recall</text>
<text transform="translate(356.47,343.78) rotate(-90)" text-anchor="end" class="v" fill="#fff" stroke="#fff" stroke-width="0.1">0.300</text>
<text transform="translate(356.47,400.65) rotate(-90)" text-anchor="start" class="v" fill="#fff" stroke="#fff" stroke-width="0.1">F1-score</text>
<text transform="translate(371.93,376.59) rotate(-90)" text-anchor="start" class="v" fill="#1a1a1a" stroke="#1a1a1a" stroke-width="0.2">0.114</text>
<text transform="translate(378.25,361.64) rotate(-90)" text-anchor="start" class="v" fill="#1a1a1a" stroke="#1a1a1a" stroke-width="0.2">0.186</text>
<text transform="translate(378.25,400.65) rotate(-90)" text-anchor="start" class="v" fill="#fff" stroke="#fff" stroke-width="0.1">Recall</text>
<text transform="translate(384.57,370.98) rotate(-90)" text-anchor="start" class="v" fill="#1a1a1a" stroke="#1a1a1a" stroke-width="0.2">0.141</text>
<text transform="translate(384.57,400.65) rotate(-90)" text-anchor="start" class="v" fill="#fff" stroke="#fff" stroke-width="0.1">F1-score</text>
<text transform="translate(400.03,375.97) rotate(-90)" text-anchor="start" class="v" fill="#1a1a1a" stroke="#1a1a1a" stroke-width="0.2">0.117</text>
<text transform="translate(406.35,375.76) rotate(-90)" text-anchor="start" class="v" fill="#1a1a1a" stroke="#1a1a1a" stroke-width="0.2">0.118</text>
<text transform="translate(412.67,375.97) rotate(-90)" text-anchor="start" class="v" fill="#1a1a1a" stroke="#1a1a1a" stroke-width="0.2">0.117</text>
<rect x="306.3" y="236.4" width="113.6" height="166.05" fill="none" stroke="#8a8a8a" stroke-width="1"/>
<line x1="303.8" y1="402.45" x2="306.3" y2="402.45" stroke="#6e6e6e" stroke-width="1"/>
<line x1="303.8" y1="381.69" x2="306.3" y2="381.69" stroke="#6e6e6e" stroke-width="1"/>
<line x1="303.8" y1="360.94" x2="306.3" y2="360.94" stroke="#6e6e6e" stroke-width="1"/>
<line x1="303.8" y1="340.18" x2="306.3" y2="340.18" stroke="#6e6e6e" stroke-width="1"/>
<line x1="303.8" y1="319.43" x2="306.3" y2="319.43" stroke="#6e6e6e" stroke-width="1"/>
<line x1="303.8" y1="298.67" x2="306.3" y2="298.67" stroke="#6e6e6e" stroke-width="1"/>
<line x1="303.8" y1="277.91" x2="306.3" y2="277.91" stroke="#6e6e6e" stroke-width="1"/>
<line x1="303.8" y1="257.16" x2="306.3" y2="257.16" stroke="#6e6e6e" stroke-width="1"/>
<line x1="303.8" y1="236.4" x2="306.3" y2="236.4" stroke="#6e6e6e" stroke-width="1"/>
<line x1="321.75" y1="402.45" x2="321.75" y2="404.95" stroke="#6e6e6e" stroke-width="1"/>
<g transform="translate(321.15,422.75) rotate(-45)">
<text x="0" y="-1.35" text-anchor="middle" class="t">ClairS-TO</text>
<text x="0" y="6.35" text-anchor="middle" class="t">SS</text>
</g>
<line x1="349.85" y1="402.45" x2="349.85" y2="404.95" stroke="#6e6e6e" stroke-width="1"/>
<g transform="translate(349.25,422.75) rotate(-45)">
<text x="0" y="-1.35" text-anchor="middle" class="t">ClairS-TO</text>
<text x="0" y="6.35" text-anchor="middle" class="t">SSRS</text>
</g>
<line x1="377.95" y1="402.45" x2="377.95" y2="404.95" stroke="#6e6e6e" stroke-width="1"/>
<g transform="translate(377.35,415.54) rotate(-45)">
<text x="0" y="2.5" text-anchor="middle" class="t">Clair3</text>
</g>
<line x1="406.05" y1="402.45" x2="406.05" y2="404.95" stroke="#6e6e6e" stroke-width="1"/>
<g transform="translate(405.45,423.93) rotate(-45)">
<text x="0" y="2.5" text-anchor="middle" class="t">DeepSomatic</text>
</g>
<text x="363.1" y="234.8" text-anchor="middle" class="t">VAF 0.3-0.4</text>
<rect x="441.87" y="360.11" width="6.32" height="42.34" fill="#9ecae1"/>
<rect x="448.19" y="251.55" width="6.32" height="150.9" fill="#6baed6"/>
<rect x="454.51" y="336.24" width="6.32" height="66.21" fill="#3182bd"/>
<rect x="469.97" y="361.77" width="6.32" height="40.68" fill="#fdae6b"/>
<rect x="476.29" y="244.49" width="6.32" height="157.96" fill="#fd8d3c"/>
<rect x="482.61" y="337.69" width="6.32" height="64.76" fill="#e6550d"/>
<rect x="498.07" y="371.11" width="6.32" height="31.34" fill="#a1d99b"/>
<rect x="504.39" y="265.67" width="6.32" height="136.78" fill="#74c476"/>
<rect x="510.71" y="351.6" width="6.32" height="50.85" fill="#31a354"/>
<rect x="526.17" y="377.33" width="6.32" height="25.12" fill="#bcbddc"/>
<rect x="532.49" y="350.56" width="6.32" height="51.89" fill="#9e9ac8"/>
<rect x="538.81" y="368.62" width="6.32" height="33.83" fill="#756bb1"/>
<text transform="translate(446.13,357.91) rotate(-90)" text-anchor="start" class="v" fill="#1a1a1a" stroke="#1a1a1a" stroke-width="0.2">0.204</text>
<text transform="translate(446.13,400.65) rotate(-90)" text-anchor="start" class="v" fill="#fff" stroke="#fff" stroke-width="0.1">Precision</text>
<text transform="translate(452.45,255.15) rotate(-90)" text-anchor="end" class="v" fill="#fff" stroke="#fff" stroke-width="0.1">0.727</text>
<text transform="translate(452.45,400.65) rotate(-90)" text-anchor="start" class="v" fill="#fff" stroke="#fff" stroke-width="0.1">Recall</text>
<text transform="translate(458.77,339.84) rotate(-90)" text-anchor="end" class="v" fill="#fff" stroke="#fff" stroke-width="0.1">0.319</text>
<text transform="translate(458.77,400.65) rotate(-90)" text-anchor="start" class="v" fill="#fff" stroke="#fff" stroke-width="0.1">F1-score</text>
<text transform="translate(474.23,359.57) rotate(-90)" text-anchor="start" class="v" fill="#1a1a1a" stroke="#1a1a1a" stroke-width="0.2">0.196</text>
<text transform="translate(474.23,400.65) rotate(-90)" text-anchor="start" class="v" fill="#fff" stroke="#fff" stroke-width="0.1">Precision</text>
<text transform="translate(480.55,248.09) rotate(-90)" text-anchor="end" class="v" fill="#fff" stroke="#fff" stroke-width="0.1">0.761</text>
<text transform="translate(480.55,400.65) rotate(-90)" text-anchor="start" class="v" fill="#fff" stroke="#fff" stroke-width="0.1">Recall</text>
<text transform="translate(486.87,341.29) rotate(-90)" text-anchor="end" class="v" fill="#fff" stroke="#fff" stroke-width="0.1">0.312</text>
<text transform="translate(486.87,400.65) rotate(-90)" text-anchor="start" class="v" fill="#fff" stroke="#fff" stroke-width="0.1">F1-score</text>
<text transform="translate(502.33,368.91) rotate(-90)" text-anchor="start" class="v" fill="#1a1a1a" stroke="#1a1a1a" stroke-width="0.2">0.151</text>
<text transform="translate(502.33,400.65) rotate(-90)" text-anchor="start" class="v" fill="#fff" stroke="#fff" stroke-width="0.1">Precision</text>
<text transform="translate(508.65,269.27) rotate(-90)" text-anchor="end" class="v" fill="#fff" stroke="#fff" stroke-width="0.1">0.659</text>
<text transform="translate(508.65,400.65) rotate(-90)" text-anchor="start" class="v" fill="#fff" stroke="#fff" stroke-width="0.1">Recall</text>
<text transform="translate(514.97,355.2) rotate(-90)" text-anchor="end" class="v" fill="#fff" stroke="#fff" stroke-width="0.1">0.245</text>
<text transform="translate(514.97,400.65) rotate(-90)" text-anchor="start" class="v" fill="#fff" stroke="#fff" stroke-width="0.1">F1-score</text>
<text transform="translate(530.43,375.13) rotate(-90)" text-anchor="start" class="v" fill="#1a1a1a" stroke="#1a1a1a" stroke-width="0.2">0.121</text>
<text transform="translate(536.75,354.16) rotate(-90)" text-anchor="end" class="v" fill="#fff" stroke="#fff" stroke-width="0.1">0.250</text>
<text transform="translate(536.75,400.65) rotate(-90)" text-anchor="start" class="v" fill="#fff" stroke="#fff" stroke-width="0.1">Recall</text>
<text transform="translate(543.07,366.42) rotate(-90)" text-anchor="start" class="v" fill="#1a1a1a" stroke="#1a1a1a" stroke-width="0.2">0.163</text>
<text transform="translate(543.07,400.65) rotate(-90)" text-anchor="start" class="v" fill="#fff" stroke="#fff" stroke-width="0.1">F1-score</text>
<rect x="436.7" y="236.4" width="113.6" height="166.05" fill="none" stroke="#8a8a8a" stroke-width="1"/>
<line x1="434.2" y1="402.45" x2="436.7" y2="402.45" stroke="#6e6e6e" stroke-width="1"/>
<line x1="434.2" y1="381.69" x2="436.7" y2="381.69" stroke="#6e6e6e" stroke-width="1"/>
<line x1="434.2" y1="360.94" x2="436.7" y2="360.94" stroke="#6e6e6e" stroke-width="1"/>
<line x1="434.2" y1="340.18" x2="436.7" y2="340.18" stroke="#6e6e6e" stroke-width="1"/>
<line x1="434.2" y1="319.43" x2="436.7" y2="319.43" stroke="#6e6e6e" stroke-width="1"/>
<line x1="434.2" y1="298.67" x2="436.7" y2="298.67" stroke="#6e6e6e" stroke-width="1"/>
<line x1="434.2" y1="277.91" x2="436.7" y2="277.91" stroke="#6e6e6e" stroke-width="1"/>
<line x1="434.2" y1="257.16" x2="436.7" y2="257.16" stroke="#6e6e6e" stroke-width="1"/>
<line x1="434.2" y1="236.4" x2="436.7" y2="236.4" stroke="#6e6e6e" stroke-width="1"/>
<line x1="452.15" y1="402.45" x2="452.15" y2="404.95" stroke="#6e6e6e" stroke-width="1"/>
<g transform="translate(451.55,422.75) rotate(-45)">
<text x="0" y="-1.35" text-anchor="middle" class="t">ClairS-TO</text>
<text x="0" y="6.35" text-anchor="middle" class="t">SS</text>
</g>
<line x1="480.25" y1="402.45" x2="480.25" y2="404.95" stroke="#6e6e6e" stroke-width="1"/>
<g transform="translate(479.65,422.75) rotate(-45)">
<text x="0" y="-1.35" text-anchor="middle" class="t">ClairS-TO</text>
<text x="0" y="6.35" text-anchor="middle" class="t">SSRS</text>
</g>
<line x1="508.35" y1="402.45" x2="508.35" y2="404.95" stroke="#6e6e6e" stroke-width="1"/>
<g transform="translate(507.75,415.54) rotate(-45)">
<text x="0" y="2.5" text-anchor="middle" class="t">Clair3</text>
</g>
<line x1="536.45" y1="402.45" x2="536.45" y2="404.95" stroke="#6e6e6e" stroke-width="1"/>
<g transform="translate(535.85,423.93) rotate(-45)">
<text x="0" y="2.5" text-anchor="middle" class="t">DeepSomatic</text>
</g>
<text x="493.5" y="234.8" text-anchor="middle" class="t">VAF 0.4-0.5</text>
<rect x="572.27" y="368.41" width="6.32" height="34.04" fill="#9ecae1"/>
<rect x="578.59" y="252.8" width="6.32" height="149.65" fill="#6baed6"/>
<rect x="584.91" y="346.82" width="6.32" height="55.63" fill="#3182bd"/>
<rect x="600.37" y="367.58" width="6.32" height="34.87" fill="#fdae6b"/>
<rect x="606.69" y="255.7" width="6.32" height="146.75" fill="#fd8d3c"/>
<rect x="613.01" y="345.99" width="6.32" height="56.46" fill="#e6550d"/>
<rect x="628.47" y="376.5" width="6.32" height="25.95" fill="#a1d99b"/>
<rect x="634.79" y="275.01" width="6.32" height="127.44" fill="#74c476"/>
<rect x="641.11" y="359.28" width="6.32" height="43.17" fill="#31a354"/>
<rect x="656.57" y="387.51" width="6.32" height="14.94" fill="#bcbddc"/>
<rect x="662.89" y="374.43" width="6.32" height="28.02" fill="#9e9ac8"/>
<rect x="669.21" y="382.94" width="6.32" height="19.51" fill="#756bb1"/>
<text transform="translate(576.53,366.21) rotate(-90)" text-anchor="start" class="v" fill="#1a1a1a" stroke="#1a1a1a" stroke-width="0.2">0.164</text>
<text transform="translate(576.53,400.65) rotate(-90)" text-anchor="start" class="v" fill="#fff" stroke="#fff" stroke-width="0.1">Precision</text>
<text transform="translate(582.85,256.4) rotate(-90)" text-anchor="end" class="v" fill="#fff" stroke="#fff" stroke-width="0.1">0.721</text>
<text transform="translate(582.85,400.65) rotate(-90)" text-anchor="start" class="v" fill="#fff" stroke="#fff" stroke-width="0.1">Recall</text>
<text transform="translate(589.17,350.42) rotate(-90)" text-anchor="end" class="v" fill="#fff" stroke="#fff" stroke-width="0.1">0.268</text>
<text transform="translate(589.17,400.65) rotate(-90)" text-anchor="start" class="v" fill="#fff" stroke="#fff" stroke-width="0.1">F1-score</text>
<text transform="translate(604.63,365.38) rotate(-90)" text-anchor="start" class="v" fill="#1a1a1a" stroke="#1a1a1a" stroke-width="0.2">0.168</text>
<text transform="translate(604.63,400.65) rotate(-90)" text-anchor="start" class="v" fill="#fff" stroke="#fff" stroke-width="0.1">Precision</text>
<text transform="translate(610.95,259.3) rotate(-90)" text-anchor="end" class="v" fill="#fff" stroke="#fff" stroke-width="0.1">0.707</text>
<text transform="translate(610.95,400.65) rotate(-90)" text-anchor="start" class="v" fill="#fff" stroke="#fff" stroke-width="0.1">Recall</text>
<text transform="translate(617.27,349.59) rotate(-90)" text-anchor="end" class="v" fill="#fff" stroke="#fff" stroke-width="0.1">0.272</text>
<text transform="translate(617.27,400.65) rotate(-90)" text-anchor="start" class="v" fill="#fff" stroke="#fff" stroke-width="0.1">F1-score</text>
<text transform="translate(632.73,374.3) rotate(-90)" text-anchor="start" class="v" fill="#1a1a1a" stroke="#1a1a1a" stroke-width="0.2">0.125</text>
<text transform="translate(639.05,278.61) rotate(-90)" text-anchor="end" class="v" fill="#fff" stroke="#fff" stroke-width="0.1">0.614</text>
<text transform="translate(639.05,400.65) rotate(-90)" text-anchor="start" class="v" fill="#fff" stroke="#fff" stroke-width="0.1">Recall</text>
<text transform="translate(645.37,357.08) rotate(-90)" text-anchor="start" class="v" fill="#1a1a1a" stroke="#1a1a1a" stroke-width="0.2">0.208</text>
<text transform="translate(645.37,400.65) rotate(-90)" text-anchor="start" class="v" fill="#fff" stroke="#fff" stroke-width="0.1">F1-score</text>
<text transform="translate(660.83,385.31) rotate(-90)" text-anchor="start" class="v" fill="#1a1a1a" stroke="#1a1a1a" stroke-width="0.2">0.072</text>
<text transform="translate(667.15,372.23) rotate(-90)" text-anchor="start" class="v" fill="#1a1a1a" stroke="#1a1a1a" stroke-width="0.2">0.135</text>
<text transform="translate(667.15,400.65) rotate(-90)" text-anchor="start" class="v" fill="#fff" stroke="#fff" stroke-width="0.1">Recall</text>
<text transform="translate(673.47,380.74) rotate(-90)" text-anchor="start" class="v" fill="#1a1a1a" stroke="#1a1a1a" stroke-width="0.2">0.094</text>
<rect x="567.1" y="236.4" width="113.6" height="166.05" fill="none" stroke="#8a8a8a" stroke-width="1"/>
<line x1="564.6" y1="402.45" x2="567.1" y2="402.45" stroke="#6e6e6e" stroke-width="1"/>
<line x1="564.6" y1="381.69" x2="567.1" y2="381.69" stroke="#6e6e6e" stroke-width="1"/>
<line x1="564.6" y1="360.94" x2="567.1" y2="360.94" stroke="#6e6e6e" stroke-width="1"/>
<line x1="564.6" y1="340.18" x2="567.1" y2="340.18" stroke="#6e6e6e" stroke-width="1"/>
<line x1="564.6" y1="319.43" x2="567.1" y2="319.43" stroke="#6e6e6e" stroke-width="1"/>
<line x1="564.6" y1="298.67" x2="567.1" y2="298.67" stroke="#6e6e6e" stroke-width="1"/>
<line x1="564.6" y1="277.91" x2="567.1" y2="277.91" stroke="#6e6e6e" stroke-width="1"/>
<line x1="564.6" y1="257.16" x2="567.1" y2="257.16" stroke="#6e6e6e" stroke-width="1"/>
<line x1="564.6" y1="236.4" x2="567.1" y2="236.4" stroke="#6e6e6e" stroke-width="1"/>
<line x1="582.55" y1="402.45" x2="582.55" y2="404.95" stroke="#6e6e6e" stroke-width="1"/>
<g transform="translate(581.95,422.75) rotate(-45)">
<text x="0" y="-1.35" text-anchor="middle" class="t">ClairS-TO</text>
<text x="0" y="6.35" text-anchor="middle" class="t">SS</text>
</g>
<line x1="610.65" y1="402.45" x2="610.65" y2="404.95" stroke="#6e6e6e" stroke-width="1"/>
<g transform="translate(610.05,422.75) rotate(-45)">
<text x="0" y="-1.35" text-anchor="middle" class="t">ClairS-TO</text>
<text x="0" y="6.35" text-anchor="middle" class="t">SSRS</text>
</g>
<line x1="638.75" y1="402.45" x2="638.75" y2="404.95" stroke="#6e6e6e" stroke-width="1"/>
<g transform="translate(638.15,415.54) rotate(-45)">
<text x="0" y="2.5" text-anchor="middle" class="t">Clair3</text>
</g>
<line x1="666.85" y1="402.45" x2="666.85" y2="404.95" stroke="#6e6e6e" stroke-width="1"/>
<g transform="translate(666.25,423.93) rotate(-45)">
<text x="0" y="2.5" text-anchor="middle" class="t">DeepSomatic</text>
</g>
<text x="623.9" y="234.8" text-anchor="middle" class="t">VAF 0.5-1.0</text>
<text transform="translate(26.1,319.43) rotate(-90)" text-anchor="middle" class="yl">Indel</text>
<text transform="translate(9.2,205.2) rotate(-90)" text-anchor="middle" class="big">COLO829</text>
</svg>
</body></html>
